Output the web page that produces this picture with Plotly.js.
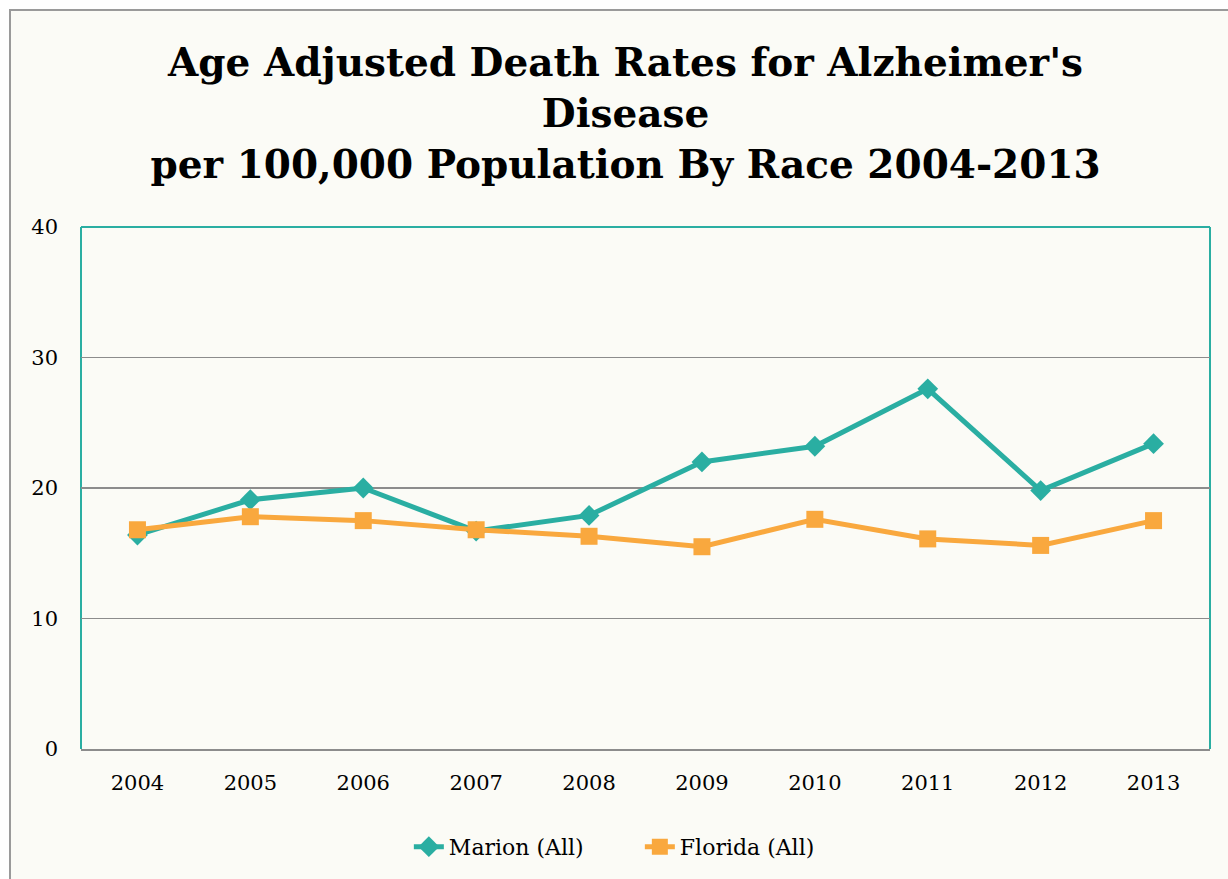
<!DOCTYPE html>
<html><head><meta charset="utf-8">
<script src="https://cdn.plot.ly/plotly-3.0.1.min.js"></script>
<style>
html,body{margin:0;padding:0;background:#ffffff;}
#wrap{position:absolute;left:9px;top:9px;width:1219px;height:870px;border-left:2px solid #9a9a9a;border-top:2px solid #9a9a9a;background:#fbfbf6;}
#chart{width:1217px;height:868px;}
</style></head>
<body><div id="wrap"><div id="chart"></div></div>
<script>
const years = ['2004','2005','2006','2007','2008','2009','2010','2011','2012','2013'];
const marion = [16.4, 19.1, 20.0, 16.7, 17.9, 22.0, 23.2, 27.6, 19.8, 23.4];
const florida = [16.8, 17.8, 17.5, 16.8, 16.3, 15.5, 17.6, 16.1, 15.6, 17.5];
const yTicks = [0, 10, 20, 30, 40];

const font = "'DejaVu Serif', 'Liberation Serif', serif";
const teal = '#2aaea2';
const traces = [
  {x: years, y: marion, name: 'Marion (All)', type: 'scatter', mode: 'lines+markers',
   line: {color: teal, width: 5}, marker: {symbol: 'diamond', size: 16, color: teal}},
  {x: years, y: florida, name: 'Florida (All)', type: 'scatter', mode: 'lines+markers',
   line: {color: '#f9a83e', width: 5}, marker: {symbol: 'square', size: 17, color: '#f9a83e'}}
];
const border = {color: teal, width: 2};
const layout = {
  width: 1217, height: 868,
  paper_bgcolor: '#fbfbf6', plot_bgcolor: '#fbfbf6',
  margin: {l: 70, r: 18, t: 216, b: 129},
  font: {family: font, color: '#000', size: 21},
  title: {text: "<b>Age Adjusted Death Rates for Alzheimer's<br>Disease<br>per 100,000 Population By Race 2004-2013</b>",
          font: {family: font, size: 39, color: '#000'}, x: 0.505, xanchor: 'center',
          yref: 'container', y: 0.925, yanchor: 'middle'},
  xaxis: {type: 'category', range: [-0.5, 9.5], showgrid: false, showline: true, linecolor: '#8c8c8c', linewidth: 2,
          ticks: '', tickfont: {size: 21}, ticklabelstandoff: 14, fixedrange: true},
  yaxis: {range: [0, 40], tickvals: yTicks, showgrid: true, gridcolor: '#8c8c8c', gridwidth: 1.5,
          zeroline: false, showline: false, ticks: '', tickfont: {size: 21}, ticklabelstandoff: 22},
  shapes: [
    {type: 'line', xref: 'paper', yref: 'paper', x0: 0, x1: 0, y0: 0, y1: 1, line: border, layer: 'below'},
    {type: 'line', xref: 'paper', yref: 'paper', x0: 0, x1: 1, y0: 1, y1: 1, line: border, layer: 'below'},
    {type: 'line', xref: 'paper', yref: 'paper', x0: 1, x1: 1, y0: 0, y1: 1, line: border, layer: 'below'}
  ],
  legend: {orientation: 'h', x: 0.495, xanchor: 'center', y: -0.145, yanchor: 'top', font: {size: 22},
           bgcolor: 'rgba(0,0,0,0)', entrywidth: 186, entrywidthmode: 'pixels'},
  showlegend: true
};
Plotly.newPlot('chart', traces, layout, {displayModeBar: false, staticPlot: true});
</script></body></html>
